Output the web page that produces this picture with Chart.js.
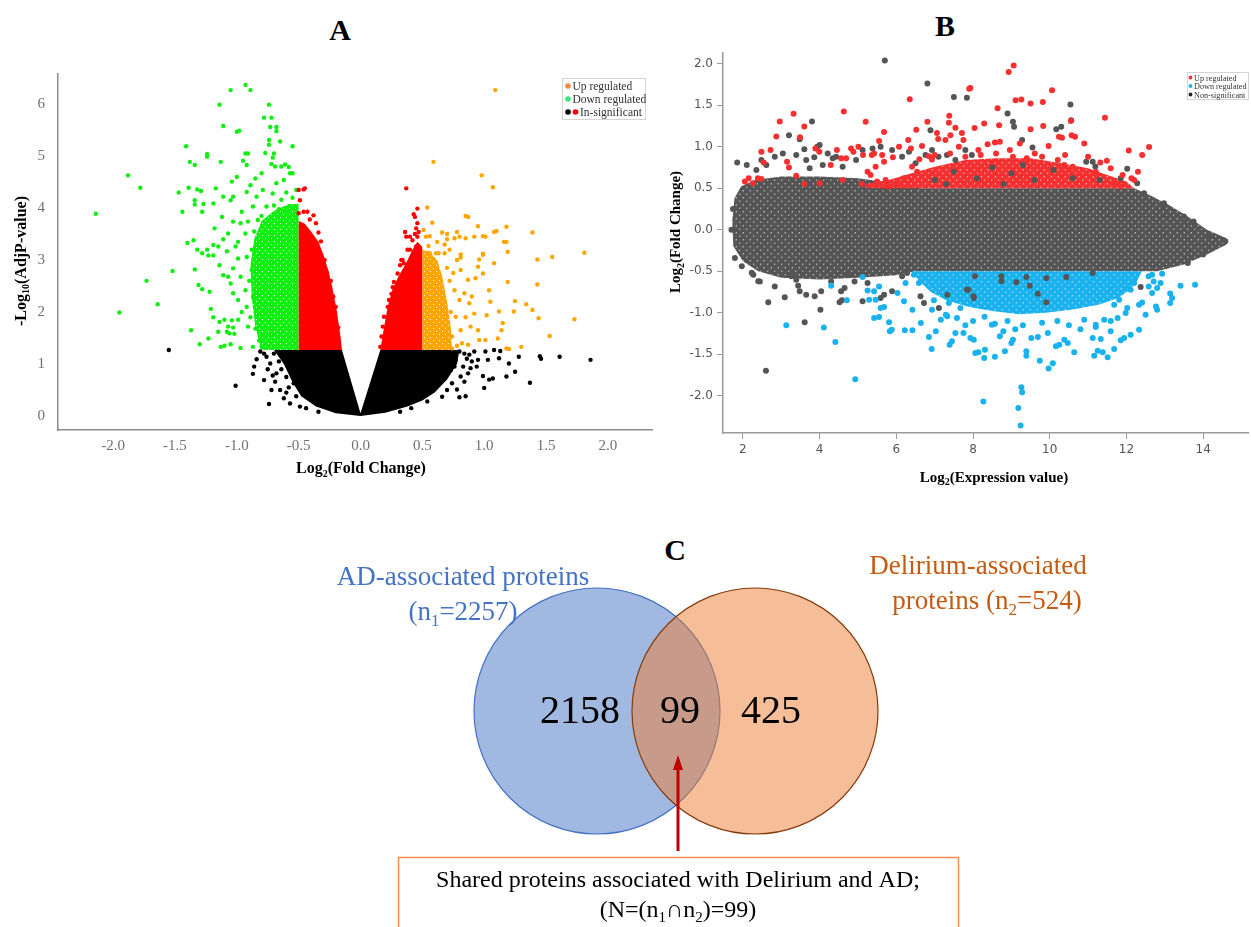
<!DOCTYPE html>
<html>
<head>
<meta charset="utf-8">
<script src="https://cdn.jsdelivr.net/npm/chart.js@4.4.0/dist/chart.umd.min.js"></script>
<style>
  body { margin: 0; background: #fff; width: 1251px; height: 927px; overflow: hidden; position: relative; }
  canvas { position: absolute; }
  .tag { position: absolute; font: bold 30px 'Liberation Serif', 'Times New Roman', serif; color: #000; transform: translate(-50%, -50%); }
</style>
</head>
<body>
<div class="tag" style="left:340px;top:30px">A</div>
<div class="tag" style="left:945px;top:26px">B</div>
<div class="tag" style="left:675px;top:550px">C</div>
<canvas id="chartA" width="660" height="490" style="left:0;top:0"></canvas>
<canvas id="chartB" width="611" height="500" style="left:640px;top:0"></canvas>
<canvas id="chartC" width="1251" height="427" style="left:0;top:500px"></canvas>
<script>
const SERIF = "'Liberation Serif', 'Times New Roman', serif";
const SANS = "'DejaVu Sans', Verdana, sans-serif";

// ---- Panel A: volcano plot (log2 fold change vs -log10 adj p) ----
const aXTicks = [-2.0, -1.5, -1.0, -0.5, 0.0, 0.5, 1.0, 1.5, 2.0];
const aYTicks = [0, 1, 2, 3, 4, 5, 6];

// dense (overlapping) regions, outlined
const aBlackDense = [[-0.7,1.27],[-0.15,1.27],[0,0.05],[0.16,1.27],[0.8,1.27],[0.78,1.0],[0.7,0.7],[0.6,0.45],[0.5,0.3],
  [0.38,0.18],[0.2,0.06],[0,0],[-0.2,0.05],[-0.36,0.18],[-0.48,0.38],[-0.55,0.65],[-0.62,1.0],[-0.7,1.27]];
const aRedLeftDense = [[-0.5,1.27],[-0.5,3.75],[-0.45,3.7],[-0.4,3.55],[-0.34,3.35],[-0.3,3.1],[-0.26,2.8],[-0.23,2.5],
  [-0.19,2.0],[-0.16,1.5],[-0.15,1.27],[-0.5,1.27]];
const aRedRightDense = [[0.16,1.27],[0.5,1.27],[0.5,3.25],[0.46,3.35],[0.42,3.2],[0.37,2.95],[0.31,2.7],[0.26,2.45],
  [0.22,2.1],[0.19,1.7],[0.16,1.27]];
const aGreenDense = [[-0.5,1.27],[-0.8,1.27],[-0.85,1.7],[-0.88,2.3],[-0.89,2.9],[-0.86,3.4],[-0.8,3.75],[-0.7,3.95],
  [-0.58,4.08],[-0.5,4.08],[-0.5,1.27]];
const aOrangeDense = [[0.5,1.27],[0.74,1.27],[0.73,1.7],[0.7,2.2],[0.66,2.7],[0.62,3.0],[0.56,3.15],[0.5,3.2],[0.5,1.27]];

// individual points
const aGreenPts = [[-2.14,3.89],[-1.88,4.63],[-1.78,4.39],[-1.41,5.19],[-1.47,4.30],[-1.39,4.39],[-1.38,4.89],[-1.34,4.83],
  [-1.44,3.93],[-1.32,4.36],[-1.29,4.33],[-1.34,4.15],[-1.34,4.07],[-1.27,4.08],[-1.24,5.04],[-1.24,4.99],[-1.14,5.99],
  [-1.11,5.58],[-1.13,4.89],[-1.05,6.27],[-0.93,6.37],[-0.89,6.27],[-1.0,5.47],[-0.98,5.49],[-0.74,5.99],[-0.78,5.74],
  [-0.72,5.74],[-0.73,5.56],[-0.68,5.56],[-0.68,5.48],[-0.74,5.31],[-0.74,5.22],[-0.65,5.28],[-0.55,5.19],[-0.93,5.05],
  [-0.91,5.05],[-0.95,4.91],[-0.92,4.83],[-0.77,5.06],[-0.70,5.05],[-0.71,4.97],[-0.72,4.85],[-0.69,4.8],[-0.64,4.8],
  [-0.61,4.84],[-0.58,4.79],[-1.40,3.33],[-1.35,3.38],[-1.32,3.20],[-1.24,3.20],[-1.23,3.09],[-1.19,3.29],[-1.18,3.61],
  [-1.17,4.38],[-1.15,3.26],[-1.11,3.40],[-1.12,3.83],[-1.08,3.17],[-1.07,3.51],[-1.05,4.15],[-1.03,3.74],[-1.01,3.26],
  [-0.99,3.35],[-0.97,3.71],[-0.96,3.93],[-0.93,3.51],[-0.92,3.06],[-0.91,3.74],[-0.89,4.44],[-0.87,4.03],[-0.84,4.22],
  [-0.83,3.77],[-0.85,4.57],[-0.8,4.67],[-0.79,4.35],[-0.76,4.03],[-0.71,4.28],[-0.68,4.48],[-0.64,4.16],[-0.62,4.54],
  [-0.57,4.67],[-0.55,4.67],[-0.6,3.96],[-1.04,4.51],[-1.0,4.6],[-0.92,4.31],[-1.03,4.22],[-1.11,4.22],[-1.19,4.09],
  [-1.28,3.93],[-1.95,1.99],[-1.73,2.60],[-1.64,2.15],[-1.52,2.79],[-1.37,1.65],[-1.34,2.82],[-1.30,1.38],[-1.31,2.52],
  [-1.28,2.44],[-1.23,1.49],[-1.22,2.39],[-1.21,2.06],[-1.19,1.90],[-1.13,1.33],[-1.10,1.35],[-1.10,1.85],[-1.08,1.62],
  [-1.04,1.84],[-1.03,1.70],[-1.02,1.58],[-1.05,1.38],[-0.97,1.31],[-1.28,3.13],[-1.19,3.09],[-1.14,2.90],[-1.11,2.71],
  [-1.07,2.68],[-1.05,2.55],[-1.03,2.84],[-1.03,2.36],[-0.99,3.03],[-0.99,2.23],[-0.97,2.68],[-0.96,2.0],[-0.93,2.42],
  [-0.92,2.1],[-0.91,1.72],[-0.88,2.81],[-0.87,2.29],[-0.85,1.68],[-0.84,1.91],[-0.81,1.53],[-0.80,1.33],[-0.87,1.33],
  [-1.15,1.62],[-1.07,1.72],[-1.06,1.59],[-0.99,1.85],[-1.14,1.81],[-0.88,3.2],[-0.9,2.6],[-0.89,1.9],[-0.82,1.45],
  [-0.86,3.55],[-0.8,3.85],[-0.7,4.05],[-0.55,4.2],[-0.52,4.35],[-0.6,4.3],[-0.66,3.98]];
const aOrangePts = [[1.09,6.27],[0.59,4.89],[0.98,4.63],[1.07,4.40],[0.54,4.01],[0.58,3.72],[0.85,3.85],[0.87,3.83],
  [0.95,3.65],[1.18,3.64],[1.39,3.53],[1.08,3.54],[1.10,3.56],[0.66,3.53],[0.70,3.50],[0.78,3.54],[0.80,3.45],[0.76,3.42],
  [0.70,3.40],[0.92,3.45],[0.99,3.46],[1.01,3.45],[0.85,3.42],[0.51,3.58],[0.53,3.45],[0.56,3.46],[1.16,3.35],[1.18,3.35],
  [0.55,3.27],[1.19,3.16],[1.55,3.06],[1.81,3.14],[0.54,3.13],[0.56,3.13],[0.61,3.13],[0.63,3.13],[0.68,3.13],[0.81,3.11],
  [0.81,3.05],[0.99,3.12],[0.96,3.01],[1.43,3.01],[1.43,2.53],[1.19,2.58],[1.25,2.21],[1.34,2.15],[1.39,2.04],[1.44,1.88],
  [1.73,1.86],[1.53,1.54],[1.30,1.33],[1.18,1.30],[1.20,1.29],[1.24,2.01],[1.12,2.01],[1.15,1.79],[1.14,1.65],[1.11,1.49],
  [1.04,2.42],[1.05,2.20],[1.02,1.94],[1.01,1.46],[0.95,2.87],[0.99,2.74],[1.08,2.94],[0.99,3.10],[0.93,2.65],[0.87,2.62],
  [0.84,2.36],[0.88,2.17],[0.92,1.97],[0.89,1.72],[0.95,1.65],[0.96,1.46],[0.87,1.37],[0.78,3.0],[0.81,2.81],[0.76,2.42],
  [0.80,2.23],[0.77,1.91],[0.81,1.65],[0.82,1.40],[0.74,1.53],[0.73,2.0],[0.72,2.6],[0.7,2.85],[0.75,2.75],[0.68,3.3],
  [0.62,3.35],[0.74,1.3],[0.78,1.35],[0.85,1.9],[0.9,2.3],[0.72,3.2]];
const aRedPts = [[-0.50,4.35],[-0.46,4.36],[-0.45,4.38],[-0.49,4.15],[-0.50,3.9],[-0.46,3.93],[-0.43,3.93],[-0.38,3.86],
  [-0.36,3.71],[-0.34,3.53],[-0.32,3.36],[-0.33,3.13],[-0.41,3.78],[-0.29,3.0],[-0.27,2.75],[-0.24,2.6],[-0.22,2.3],
  [-0.2,2.1],[-0.18,1.7],[0.47,3.19],[0.47,3.1],[0.45,3.03],[0.42,2.94],[0.41,2.84],[0.38,2.77],[0.35,2.94],[0.34,3.0],
  [0.32,2.9],[0.30,2.74],[0.27,2.58],[0.26,2.48],[0.25,2.35],[0.23,2.23],[0.22,2.1],[0.19,1.91],[0.18,1.72],[0.17,1.53],
  [0.16,1.33],[0.37,4.38],[0.46,3.99],[0.43,3.88],[0.44,3.83],[0.46,3.71],[0.45,3.61],[0.47,3.54],[0.46,3.45],[0.36,3.54],
  [0.37,3.45],[0.40,3.45],[0.42,3.38],[0.44,3.5],[0.38,3.2],[0.40,3.2],[0.46,3.16],[0.45,3.26],[0.33,3.0]];
const aBlackPts = [[-1.55,1.27],[-1.01,0.58],[-0.74,0.23],[-0.87,0.81],[-0.86,0.95],[-0.84,1.09],[-0.81,1.24],[-0.76,1.14],
  [-0.73,1.01],[-0.78,0.69],[-0.68,0.82],[-0.65,0.5],[-0.62,0.34],[-0.57,0.24],[-0.54,0.63],[-0.49,0.18],[-0.34,0.08],
  [-0.69,0.66],[-0.72,0.5],[-0.7,1.2],[-0.66,1.05],[-0.64,0.9],[-0.6,0.75],[-0.58,0.55],[-0.52,0.38],[-0.44,0.15],
  [-0.75,0.9],[-0.78,1.2],[-0.71,0.78],[-0.6,0.45],[1.86,1.08],[1.61,1.14],[1.45,1.15],[1.46,1.10],[1.37,0.64],[1.28,1.14],
  [1.25,0.85],[1.18,0.76],[1.20,1.01],[1.12,1.11],[1.13,1.25],[1.08,1.27],[1.07,0.72],[1.04,0.70],[0.99,0.77],[1.00,0.54],
  [1.03,1.08],[1.01,1.24],[0.95,1.08],[0.94,0.95],[0.92,1.24],[0.85,0.38],[0.80,0.36],[0.78,0.51],[0.74,0.63],[0.89,0.92],
  [0.87,0.82],[0.84,0.66],[0.81,0.76],[0.66,0.37],[0.54,0.28],[0.41,0.15],[0.32,0.08],[0.70,0.5],[0.73,0.88],[0.77,1.08],
  [0.80,1.24],[0.86,1.1],[0.9,1.05],[0.83,0.95],[0.76,0.95],[0.84,1.2],[0.88,1.18]];

// ---- Panel B: MA plot (log2 expression vs log2 fold change) ----
const bXTicks = [2, 4, 6, 8, 10, 12, 14];
const bYTicks = [-2.0, -1.5, -1.0, -0.5, 0.0, 0.5, 1.0, 1.5, 2.0];

const bGrayDense = [[1.72,0.1],[1.78,0.38],[1.95,0.52],[2.3,0.6],[3.0,0.64],[4.0,0.64],[5.0,0.62],[6.0,0.56],[6.6,0.5],
  [12.2,0.5],[12.6,0.42],[13.1,0.3],[13.6,0.16],[14.1,0.0],[14.6,-0.1],[14.6,-0.18],[14.1,-0.3],[13.5,-0.42],[12.8,-0.5],
  [6.5,-0.5],[6.0,-0.55],[5.0,-0.58],[4.0,-0.6],[3.0,-0.58],[2.4,-0.5],[2.0,-0.38],[1.75,-0.2],[1.72,0.1]];
const bRedDense = [[5.2,0.5],[12.2,0.5],[12.0,0.58],[11.5,0.66],[11.0,0.74],[10.3,0.8],[9.5,0.86],[8.6,0.86],[7.8,0.84],
  [7.0,0.76],[6.4,0.68],[5.8,0.6],[5.2,0.55],[5.2,0.5]];
const bBlueDense = [[6.4,-0.5],[12.4,-0.5],[12.3,-0.6],[12.1,-0.72],[11.8,-0.82],[11.3,-0.9],[10.6,-0.96],[9.9,-1.0],
  [9.2,-1.02],[8.5,-0.98],[7.9,-0.93],[7.3,-0.85],[6.9,-0.75],[6.6,-0.62],[6.4,-0.5]];

const bRedPts = [[2.05,0.58],[2.15,0.62],[2.26,0.56],[2.39,0.62],[2.48,0.61],[2.48,0.94],[2.54,0.81],[2.72,0.96],[2.87,1.125],
  [2.96,1.305],[3.32,1.397],[3.49,1.116],[3.6,1.245],[3.15,0.82],[3.20,0.75],[3.39,0.65],[3.89,0.98],[3.99,0.94],[4.29,0.78],
  [4.45,0.96],[4.56,0.86],[4.63,1.425],[4.69,0.86],[4.82,0.98],[4.88,0.94],[5.01,1.0],[5.2,1.30],[5.13,0.90],[5.36,0.9],
  [5.42,0.92],[5.25,0.70],[5.33,0.66],[5.46,0.76],[5.63,0.9],[5.68,1.178],[5.55,1.07],[5.68,0.82],[5.72,0.60],[5.91,0.875],
  [6.07,1.0],[6.31,1.08],[6.35,1.574],[6.52,1.205],[6.38,0.98],[6.41,0.76],[6.54,0.70],[6.67,1.01],[6.81,1.30],[6.85,0.885],
  [6.93,0.845],[7.06,1.165],[7.09,1.092],[7.28,1.08],[7.38,1.374],[7.41,1.14],[7.37,1.29],[7.54,1.229],[7.71,1.165],
  [7.75,1.08],[7.93,1.707],[8.04,1.225],[7.63,1.0],[7.90,1.70],[8.93,1.90],[9.06,1.98],[9.11,1.56],[9.26,1.57],[9.50,1.52],
  [9.82,1.54],[10.06,1.68],[8.64,1.465],[8.68,1.26],[8.29,1.28],[9.50,1.21],[9.83,1.25],[10.55,1.31],[11.44,1.35],
  [10.24,1.12],[10.32,1.11],[10.57,1.14],[10.66,1.12],[10.90,1.04],[12.06,0.955],[12.41,0.90],[12.59,0.996],[9.97,1.01],
  [8.96,0.96],[9.04,0.88],[8.57,1.05],[8.70,1.06],[8.38,1.03],[8.14,0.96],[9.22,1.04],[9.61,0.92],[10.21,0.84],[10.38,0.78],
  [10.6,0.76],[11.32,0.81],[11.49,0.83],[11.59,0.74],[12.13,0.62],[12.2,0.6],[11.68,0.56],[11.85,0.52],[6.2,0.62],[6.0,0.55],
  [5.8,0.52],[5.5,0.58],[5.1,0.55],[4.6,0.6],[4.0,0.56],[3.6,0.55],[6.6,0.85],[7.0,0.9],[7.4,0.92],[7.8,0.88],[8.2,0.9],
  [8.6,0.92],[9.4,0.86],[9.8,0.88],[10.4,0.9],[11.0,0.88],[11.2,0.7],[11.9,0.66],[12.3,0.7]];
const bBluePts = [[8.27,-2.07],[9.26,-1.9],[9.28,-1.96],[9.18,-2.15],[9.24,-2.36],[9.97,-1.674],[10.08,-1.61],[9.74,-1.578],
  [9.39,-1.466],[9.39,-1.52],[8.57,-1.53],[8.29,-1.545],[8.14,-1.478],[8.31,-1.446],[8.83,-1.466],[9.04,-1.325],[9.0,-1.365],
  [8.70,-1.285],[8.79,-1.225],[8.49,-1.144],[8.57,-1.133],[9.52,-1.305],[9.69,-1.293],[9.95,-1.245],[10.16,-1.405],
  [10.25,-1.385],[10.38,-1.325],[10.47,-1.365],[10.64,-1.478],[11.16,-1.52],[11.25,-1.458],[11.38,-1.478],[11.51,-1.538],
  [11.68,-1.438],[11.85,-1.333],[11.94,-1.305],[12.11,-1.265],[12.33,-1.205],[11.12,-1.305],[11.33,-1.317],[11.59,-1.225],
  [11.2,-1.173],[11.2,-1.144],[12.8,-0.964],[12.77,-0.924],[13.14,-0.884],[13.19,-0.824],[13.14,-0.77],[13.41,-0.675],
  [13.79,-0.663],[12.5,-1.024],[12.41,-0.876],[12.67,-0.763],[12.80,-0.703],[12.89,-0.643],[12.67,-0.542],[12.58,-0.562],
  [12.71,-0.623],[12.93,-0.53],[12.58,-0.683],[12.11,-0.723],[12.2,-0.643],[12.33,-0.904],[12.02,-0.944],[11.98,-1.004],
  [11.81,-0.844],[11.68,-0.904],[10.9,-1.084],[11.42,-1.084],[11.59,-1.1],[11.77,-1.064],[10.2,-1.1],[10.5,-1.15],
  [9.8,-1.12],[9.3,-1.15],[8.9,-1.1],[8.3,-1.05],[8.0,-1.1],[7.8,-1.15],[10.8,-1.2],[9.1,-1.2],[3.13,-1.152],[4.11,-1.177],
  [4.41,-1.353],[4.93,-1.803],[4.30,-0.675],[4.71,-0.851],[5.12,-0.57],[5.42,-1.064],[5.55,-1.052],[5.25,-0.731],
  [5.29,-0.843],[5.46,-0.843],[5.59,-0.944],[5.68,-0.932],[5.81,-1.116],[5.83,-1.225],[5.88,-1.205],[6.22,-1.213],
  [6.42,-1.213],[6.03,-0.763],[6.2,-0.863],[6.42,-0.964],[6.64,-1.124],[6.85,-1.293],[6.92,-1.438],[7.03,-1.225],
  [7.16,-1.084],[7.33,-1.044],[7.29,-1.024],[7.39,-1.385],[7.45,-1.345],[7.54,-1.245],[7.67,-0.944],[7.75,-1.245],
  [7.58,-1.064],[7.93,-1.305],[8.02,-1.325],[8.06,-1.486],[6.98,-0.851],[7.37,-0.884],[6.93,-0.964],[6.24,-0.643],
  [6.46,-0.542],[6.59,-0.643],[5.42,-0.743],[5.55,-0.683]];
const bGrayPts = [[1.85,0.81],[2.48,0.84],[3.2,1.14],[3.48,1.09],[3.80,1.305],[3.6,0.97],[3.94,1.0],[4.0,1.02],[3.86,0.875],
  [4.34,0.86],[5.70,2.04],[6.81,1.763],[7.50,1.6],[7.84,1.59],[6.89,1.2],[8.9,1.40],[9.04,1.30],[9.07,1.24],[10.54,1.51],
  [10.56,1.318],[10.17,1.21],[10.3,1.24],[9.28,1.08],[9.55,0.99],[10.95,0.82],[11.12,0.82],[11.19,0.763],[12.02,0.735],
  [11.85,0.62],[12.28,0.56],[2.10,0.78],[2.35,0.72],[2.61,0.78],[2.83,0.88],[3.04,0.92],[3.39,0.90],[3.65,0.84],[3.74,0.74],
  [4.08,0.78],[4.21,0.92],[4.43,0.88],[4.60,0.76],[4.95,0.84],[5.12,0.96],[5.38,0.98],[5.59,1.0],[5.89,0.96],[6.15,0.88],
  [6.33,0.94],[6.50,0.80],[6.76,0.90],[6.93,0.96],[7.10,0.88],[7.32,0.90],[7.54,0.84],[7.80,0.96],[7.97,0.90],
  [2.6,-1.699],[2.66,-0.875],[3.09,-0.815],[3.61,-1.116],[4.02,-0.964],[3.44,-0.675],[3.48,-0.743],[3.65,-0.783],
  [3.87,-0.803],[4.04,-0.743],[4.30,-0.623],[4.56,-0.743],[4.65,-0.703],[4.52,-0.875],[4.58,-0.851],[3.26,-0.562],
  [3.39,-0.602],[2.83,-0.683],[2.44,-0.623],[2.27,-0.542],[4.78,-0.542],[4.91,-0.623],[5.25,-0.643],[5.12,-0.863],
  [5.68,-0.783],[5.89,-0.743],[6.15,-0.562],[6.28,-0.522],[5.59,-0.823],[6.63,-0.803],[6.72,-0.884],[7.11,-0.944],
  [7.33,-0.783],[7.84,-0.723],[8.02,-0.823],[8.05,-0.562],[8.74,-0.562],[9.13,-0.634],[9.39,-0.57],[9.48,-0.675],
  [9.69,-0.771],[9.91,-0.875],[8.74,-0.622],[9.91,-0.582],[10.43,-0.57],[11.12,-0.522],[12.37,-0.69],[7.88,-0.723],
  [8.01,-0.803],[1.79,-0.34],[1.97,-0.44],[2.23,-0.52],[2.40,-0.62],[7.0,0.6],[7.5,0.7],[8.1,0.62],[8.5,0.75],[9.0,0.68],
  [9.6,0.6],[10.1,0.72],[10.6,0.62],[11.3,0.6],[8.8,0.55],[7.3,0.55],[9.3,0.78],[12.46,0.44],[12.98,0.32],[13.5,0.16],
  [13.75,0.10],[14.19,-0.08],[14.58,-0.14],[14.0,-0.3],[13.6,-0.4],[1.7,0.0],[1.74,0.25]];

// ---- Panel C: Venn diagram ----
const vennSetNames = ['AD', 'Delirium'];
const vennTotals = [2257, 524];
const vennCounts = [2158, 99, 425];   // AD only, shared, Delirium only

function pts(arr) { return arr.map(p => ({ x: p[0], y: p[1] })); }

// regular dot texture used for the heavily over-plotted regions
function dotPattern(color, size, r) {
  const c = document.createElement('canvas');
  c.width = size; c.height = size;
  const g = c.getContext('2d');
  g.fillStyle = color;
  const h = size / 4;
  for (const [cx, cy] of [[h, h], [3 * h, 3 * h]]) {
    for (const dx of [-size, 0, size]) for (const dy of [-size, 0, size]) {
      g.beginPath(); g.arc(cx + dx, cy + dy, r, 0, Math.PI * 2); g.fill();
    }
  }
  return g.createPattern(c, 'repeat');
}

function area(arr, fill, order) {
  return { type: 'line', data: pts(arr), fill: 'shape', backgroundColor: fill, borderColor: 'rgba(0,0,0,0)',
           borderWidth: 0, pointRadius: 0, tension: 0, order: order };
}
function dots(arr, color, r, order) {
  return { type: 'scatter', data: pts(arr), backgroundColor: color, borderWidth: 0, pointRadius: r,
           pointHoverRadius: r, order: order };
}

// text with subscript parts: segs = [[text, isSub], ...]; y is the baseline
function drawRich(ctx, segs, x, y, size, opts) {
  const family = opts.family || SERIF;
  const weight = opts.weight || 'normal';
  const sub = Math.round(size * 0.64);
  let total = 0;
  segs.forEach(([t, s]) => { ctx.font = `${weight} ${s ? sub : size}px ${family}`; total += ctx.measureText(t).width; });
  let cx = opts.align === 'left' ? x : (opts.align === 'right' ? x - total : x - total / 2);
  ctx.fillStyle = opts.color || '#000';
  ctx.textBaseline = 'alphabetic';
  ctx.textAlign = 'left';
  segs.forEach(([t, s]) => {
    ctx.font = `${weight} ${s ? sub : size}px ${family}`;
    ctx.fillText(t, cx, y + (s ? size * 0.22 : 0));
    cx += ctx.measureText(t).width;
  });
}
function drawRotated(ctx, segs, cx, cy, size, opts) {
  ctx.save();
  ctx.translate(cx, cy);
  ctx.rotate(-Math.PI / 2);
  drawRich(ctx, segs, 0, size * 0.35, size, opts);
  ctx.restore();
}

const baseOpts = { responsive: false, animation: false, events: [],
  plugins: { legend: { display: false }, tooltip: { enabled: false } } };

// Panel A
const aDecor = {
  id: 'aDecor',
  afterDraw(chart) {
    const ctx = chart.ctx;
    drawRotated(ctx, [['-Log', 0], ['10', 1], ['(AdjP-value)', 0]], 20, 261, 16, { weight: 'bold' });
    drawRich(ctx, [['Log', 0], ['2', 1], ['(Fold Change)', 0]], 361, 473, 16, { weight: 'bold' });
    ctx.save();
    ctx.strokeStyle = '#d4d4d4'; ctx.lineWidth = 1;
    ctx.strokeRect(562.5, 78.5, 83, 41);
    const rows = [[['#f08a3c'], 'Up regulated'], [['#3ce878'], 'Down regulated'], [['#000', '#ff0000'], 'In-significant']];
    rows.forEach(([cols, label], i) => {
      const y = 86 + i * 13;
      cols.forEach((c, j) => { ctx.fillStyle = c; ctx.beginPath(); ctx.arc(568 + j * 7.5, y, 2.8, 0, Math.PI * 2); ctx.fill(); });
      drawRich(ctx, [[label, 0]], 572.5 + (cols.length - 1) * 7.5, y + 4, 11.5, { align: 'left', color: '#333' });
    });
    ctx.restore();
  }
};

new Chart(document.getElementById('chartA'), {
  type: 'scatter',
  data: { datasets: [
    area(aBlackDense, '#000', 30),
    area(aGreenDense, dotPattern('#11ee11', 6, 2.6), 29),
    area(aRedLeftDense, '#ff0000', 28),
    area(aRedRightDense, '#ff0000', 27),
    area(aOrangeDense, dotPattern('#ffa500', 6, 2.6), 26),
    dots(aBlackPts, '#000', 2.2, 5),
    dots(aGreenPts, '#11ee11', 2.2, 4),
    dots(aRedPts, '#ff0000', 2.2, 3),
    dots(aOrangePts, '#ffa500', 2.2, 2)
  ] },
  options: Object.assign({}, baseOpts, {
    layout: { padding: { left: 0, top: 74, right: 8, bottom: 20 } },
    scales: {
      x: { type: 'linear', min: -2.446, max: 2.357,
           grid: { display: false, drawTicks: false }, border: { color: '#8c8c8c', width: 1.5 },
           afterBuildTicks: s => { s.ticks = aXTicks.map(v => ({ value: v })); },
           afterFit: s => { s.height = 40; },
           ticks: { callback: v => v.toFixed(1), color: '#707070', font: { family: SERIF, size: 15 },
                    padding: 7, autoSkip: false, maxRotation: 0 } },
      y: { type: 'linear', min: -0.27, max: 6.58,
           grid: { display: false, drawTicks: false }, border: { color: '#8c8c8c', width: 1.5 },
           afterBuildTicks: s => { s.ticks = aYTicks.map(v => ({ value: v })); },
           afterFit: s => { s.width = 58; },
           ticks: { callback: v => v.toFixed(0), color: '#707070', font: { family: SERIF, size: 15 },
                    padding: 13, autoSkip: false } }
    }
  }),
  plugins: [aDecor]
});

// Panel B
const bDecor = {
  id: 'bDecor',
  afterDraw(chart) {
    const ctx = chart.ctx;
    drawRotated(ctx, [['Log', 0], ['2', 1], ['(Fold Change)', 0]], 35, 232, 15, { weight: 'bold' });
    drawRich(ctx, [['Log', 0], ['2', 1], ['(Expression value)', 0]], 354, 482, 15, { weight: 'bold' });
    ctx.save();
    ctx.strokeStyle = '#d4d4d4'; ctx.lineWidth = 1;
    ctx.strokeRect(547.5, 72.5, 61, 27);
    const rows = [['#f43030', 'Up regulated'], ['#1ab2ee', 'Down regulated'], ['#222', 'Non-significant']];
    rows.forEach(([c, label], i) => {
      const y = 77.5 + i * 8.5;
      ctx.fillStyle = c; ctx.beginPath(); ctx.arc(550.5, y, 1.9, 0, Math.PI * 2); ctx.fill();
      drawRich(ctx, [[label, 0]], 554, y + 3, 8.2, { align: 'left', color: '#333' });
    });
    ctx.restore();
  }
};

new Chart(document.getElementById('chartB'), {
  type: 'scatter',
  data: { datasets: [
    area(bGrayDense, dotPattern('#555555', 7, 3.05), 30),
    area(bRedDense, dotPattern('#f43030', 7, 3.05), 29),
    area(bBlueDense, dotPattern('#1ab2ee', 7, 3.05), 28),
    dots(bGrayPts, '#555555', 3, 6),
    dots(bRedPts, '#f43030', 3, 5),
    dots(bBluePts, '#1ab2ee', 3, 4)
  ] },
  options: Object.assign({}, baseOpts, {
    layout: { padding: { left: 0, top: 53, right: 0, bottom: 37 } },
    scales: {
      x: { type: 'linear', min: 1.48, max: 15.17,
           grid: { display: true, drawOnChartArea: false, drawTicks: true, tickLength: 6, color: '#9a9a9a' },
           border: { color: '#9a9a9a', width: 1.5 },
           afterBuildTicks: s => { s.ticks = bXTicks.map(v => ({ value: v })); },
           afterFit: s => { s.height = 30; },
           ticks: { callback: v => String(v), color: '#555', font: { family: SANS, size: 12 },
                    padding: 4, autoSkip: false, maxRotation: 0 } },
      y: { type: 'linear', min: -2.45, max: 2.13,
           grid: { display: true, drawOnChartArea: false, drawTicks: true, tickLength: 6, color: '#9a9a9a' },
           border: { color: '#9a9a9a', width: 1.5 },
           afterBuildTicks: s => { s.ticks = bYTicks.map(v => ({ value: v })); },
           afterFit: s => { s.width = 83; },
           ticks: { callback: v => v.toFixed(1), color: '#555', font: { family: SANS, size: 12 },
                    padding: 4, autoSkip: false } }
    }
  }),
  plugins: [bDecor]
});

// Panel C: Venn drawn on hidden scales laid out in page pixels
const vennDraw = {
  id: 'vennDraw',
  afterDraw(chart) {
    const ctx = chart.ctx;
    const X = v => chart.scales.x.getPixelForValue(v);
    const Y = v => chart.scales.y.getPixelForValue(v);
    const R = 123;
    ctx.save();
    ctx.beginPath(); ctx.arc(X(597), Y(711), R, 0, Math.PI * 2);
    ctx.fillStyle = 'rgba(68,114,196,0.5)'; ctx.fill();
    ctx.strokeStyle = '#4472c4'; ctx.lineWidth = 1.2; ctx.stroke();
    ctx.beginPath(); ctx.arc(X(755), Y(711), R, 0, Math.PI * 2);
    ctx.fillStyle = 'rgba(237,125,49,0.5)'; ctx.fill();
    ctx.strokeStyle = '#843c0c'; ctx.lineWidth = 1.2; ctx.stroke();

    const blue = '#4472c4', orange = '#c55a11';
    drawRich(ctx, [[vennSetNames[0] + '-associated proteins', 0]], X(463), Y(585), 27, { color: blue });
    drawRich(ctx, [['(n', 0], ['1', 1], ['=' + vennTotals[0] + ')', 0]], X(463), Y(620), 27, { color: blue });
    drawRich(ctx, [[vennSetNames[1] + '-associated', 0]], X(978), Y(574), 27, { color: orange });
    drawRich(ctx, [['proteins (n', 0], ['2', 1], ['=' + vennTotals[1] + ')', 0]], X(987), Y(609), 27, { color: orange });

    drawRich(ctx, [[String(vennCounts[0]), 0]], X(580), Y(723), 40, {});
    drawRich(ctx, [[String(vennCounts[1]), 0]], X(680), Y(723), 40, {});
    drawRich(ctx, [[String(vennCounts[2]), 0]], X(771), Y(723), 40, {});

    ctx.strokeStyle = '#c00000'; ctx.fillStyle = '#c00000'; ctx.lineWidth = 3;
    ctx.beginPath(); ctx.moveTo(X(678), Y(851)); ctx.lineTo(X(678), Y(768)); ctx.stroke();
    ctx.beginPath(); ctx.moveTo(X(678), Y(755)); ctx.lineTo(X(673), Y(770)); ctx.lineTo(X(683), Y(770)); ctx.closePath(); ctx.fill();

    ctx.strokeStyle = '#f08c4c'; ctx.lineWidth = 1.5;
    ctx.strokeRect(X(398.5), Y(857.5), 560, 80);
    drawRich(ctx, [['Shared proteins associated with ' + vennSetNames[1] + ' and ' + vennSetNames[0] + ';', 0]], X(678), Y(887), 24, {});
    drawRich(ctx, [['(N=(n', 0], ['1', 1], ['\u2229n', 0], ['2', 1], [')=' + vennCounts[1] + ')', 0]], X(678), Y(917), 24, {});
    ctx.restore();
  }
};

new Chart(document.getElementById('chartC'), {
  type: 'scatter',
  data: { datasets: [] },
  options: Object.assign({}, baseOpts, {
    layout: { padding: 0 },
    scales: {
      x: { type: 'linear', min: 0, max: 1251, display: false },
      y: { type: 'linear', min: 500, max: 927, reverse: true, display: false }
    }
  }),
  plugins: [vennDraw]
});
</script>
</body>
</html>
